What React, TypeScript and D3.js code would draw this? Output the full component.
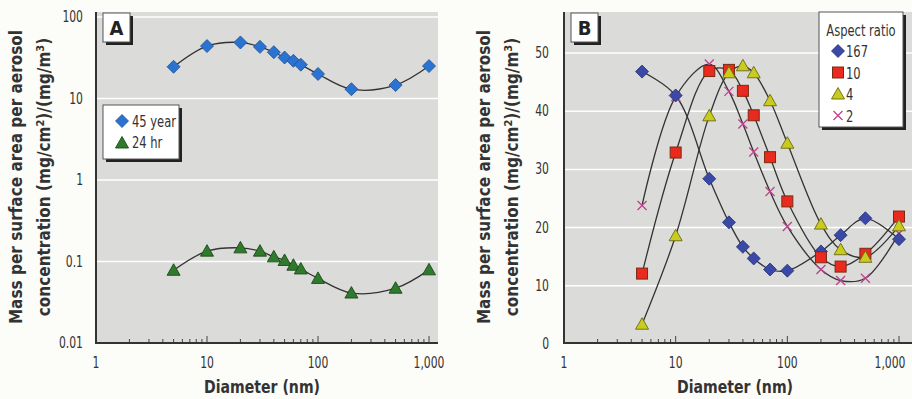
import { useRef, useEffect } from "react";
import * as d3 from "d3";

// panel A (log-log)
const diamA = [5, 10, 20, 30, 40, 50, 60, 70, 100, 200, 500, 1000];
const year45 = [24.5, 44, 48.7, 43, 37, 31.8, 29, 26, 20, 13, 14.6, 25];
const hr24 = [0.078, 0.134, 0.147, 0.134, 0.114, 0.103, 0.09, 0.081, 0.062, 0.041, 0.047, 0.079];
const yTicksA = [0.01, 0.1, 1, 10, 100];

// panel B (log-linear)
const diamB = [5, 10, 20, 30, 40, 50, 70, 100, 200, 300, 500, 1000];
const ar167 = [46.8, 42.7, 28.4, 20.9, 16.7, 14.7, 12.8, 12.6, 15.9, 18.7, 21.6, 18.0];
const ar10 = [12.1, 32.9, 46.9, 47.1, 43.5, 39.3, 32.1, 24.5, 14.9, 13.3, 15.5, 21.9];
const ar4 = [3.4, 18.6, 39.2, 46.6, 47.8, 46.6, 41.8, 34.5, 20.6, 16.2, 14.9, 20.3];
const ar2 = [23.8, 42.5, 48.1, 43.4, 37.8, 33.0, 26.2, 20.2, 12.8, 10.9, 11.3, 19.0];
const yTicksB = [0, 10, 20, 30, 40, 50];

const xTicks = [1, 10, 100, 1000];
const FONT = "'DejaVu Sans Condensed', 'Liberation Sans Narrow', sans-serif";

type Marker = "diamond" | "triangle" | "square" | "cross";

function drawMarker(g: any, type: Marker, x: number, y: number, fill: string, stroke: string) {
  if (type === "diamond") {
    g.append("path")
      .attr("d", `M${x},${y - 6.5}L${x + 6.5},${y}L${x},${y + 6.5}L${x - 6.5},${y}Z`)
      .attr("fill", fill).attr("stroke", stroke).attr("stroke-width", 0.8);
  } else if (type === "triangle") {
    g.append("path")
      .attr("d", `M${x},${y - 6.5}L${x + 6.5},${y + 5}L${x - 6.5},${y + 5}Z`)
      .attr("fill", fill).attr("stroke", stroke).attr("stroke-width", 0.9);
  } else if (type === "square") {
    g.append("rect")
      .attr("x", x - 5.5).attr("y", y - 5.5).attr("width", 11).attr("height", 11)
      .attr("fill", fill).attr("stroke", stroke).attr("stroke-width", 1);
  } else {
    g.append("path")
      .attr("d", `M${x - 4.5},${y - 4.5}L${x + 4.5},${y + 4.5}M${x + 4.5},${y - 4.5}L${x - 4.5},${y + 4.5}`)
      .attr("stroke", fill).attr("stroke-width", 1.3).attr("fill", "none");
  }
}

function App() {
  const svgRef = useRef<SVGSVGElement>(null);

  useEffect(() => {
    const svg = d3.select(svgRef.current);
    svg.selectAll("*").remove();
    svg.append("rect").attr("width", 912).attr("height", 399).attr("fill", "#fcfcf8");

    const line = (x: any, y: any) =>
      d3.line<[number, number]>()
        .x((d) => x(d[0]))
        .y((d) => y(d[1]))
        .curve(d3.curveCatmullRom.alpha(0.5));

    const drawXAxis = (x: any, left: number, right: number, bottom: number, center: number) => {
      const g = svg.append("g");
      const minor: number[] = [];
      for (let dec = 1; dec < 1000; dec *= 10) {
        for (let k = 2; k <= 9; k++) minor.push(dec * k);
      }
      g.selectAll(".minor").data(minor).join("line")
        .attr("x1", (d) => x(d)).attr("x2", (d) => x(d))
        .attr("y1", bottom).attr("y2", bottom - 4)
        .attr("stroke", "#444").attr("stroke-width", 1);
      g.selectAll(".major").data([10, 100, 1000]).join("line")
        .attr("x1", (d) => x(d)).attr("x2", (d) => x(d))
        .attr("y1", bottom).attr("y2", bottom - 7)
        .attr("stroke", "#444").attr("stroke-width", 1);
      g.append("line").attr("x1", left - 1).attr("x2", right).attr("y1", bottom).attr("y2", bottom)
        .attr("stroke", "#333").attr("stroke-width", 2);
      g.append("line").attr("x1", left).attr("x2", left).attr("y1", 12).attr("y2", bottom)
        .attr("stroke", "#333").attr("stroke-width", 2);
      g.selectAll(".xl").data(xTicks).join("text")
        .attr("class", "cond")
        .attr("x", (d) => x(d) + (d === 1000 && right > 900 ? -9 : 0)).attr("y", 368)
        .attr("text-anchor", "middle")
        .attr("font-family", FONT).attr("font-size", 15).attr("fill", "#333")
        .text((d) => d3.format(",")(d));
      g.append("text").attr("x", center).attr("y", 393)
        .attr("text-anchor", "middle").attr("font-family", FONT)
        .attr("font-size", 18).attr("font-weight", "bold").attr("fill", "#333")
        .attr("textLength", 116).attr("lengthAdjust", "spacingAndGlyphs")
        .text("Diameter (nm)");
    };

    const drawYTitle = (cx: number) => {
      const g = svg.append("g").attr("transform", `translate(${cx},177) rotate(-90)`);
      const t1 = g.append("text").attr("x", 0).attr("y", 0)
        .attr("text-anchor", "middle").attr("font-family", FONT)
        .attr("font-size", 17).attr("font-weight", "bold").attr("fill", "#333");
      t1.text("Mass per surface area per aerosol");
      const t2 = g.append("text").attr("x", 0).attr("y", 28)
        .attr("text-anchor", "middle").attr("font-family", FONT)
        .attr("font-size", 17).attr("font-weight", "bold").attr("fill", "#333");
      t2.append("tspan").text("concentration (mg/cm");
      t2.append("tspan").attr("font-size", 11).attr("dy", -6).text("2");
      t2.append("tspan").attr("dy", 6).text(")/(mg/m");
      t2.append("tspan").attr("font-size", 11).attr("dy", -6).text("3");
      t2.append("tspan").attr("dy", 6).text(")");
    };

    const labelBox = (x0: number, label: string) => {
      svg.append("rect").attr("x", x0 + 3).attr("y", 16).attr("width", 27).attr("height", 29).attr("fill", "#222");
      svg.append("rect").attr("x", x0).attr("y", 13).attr("width", 27).attr("height", 29)
        .attr("fill", "#fff").attr("stroke", "#555").attr("stroke-width", 1);
      svg.append("text").attr("x", x0 + 13.5).attr("y", 35).attr("text-anchor", "middle")
        .attr("font-family", FONT).attr("font-size", 20).attr("font-weight", "bold").attr("fill", "#222")
        .text(label);
    };

    // ---------- Panel A ----------
    const xA = d3.scaleLog().domain([1, 1000]).range([96, 429]);
    const yA = d3.scaleLog().domain([0.01, 100]).range([343, 17]);
    svg.append("rect").attr("x", 96).attr("y", 12).attr("width", 342).attr("height", 331).attr("fill", "#dbdbd9");
    svg.selectAll(".gridA").data(yTicksA.slice(1)).join("line")
      .attr("x1", 96).attr("x2", 438).attr("y1", (d) => yA(d)).attr("y2", (d) => yA(d))
      .attr("stroke", "#fff").attr("stroke-width", 1.5);
    svg.selectAll(".ylA").data(yTicksA).join("text")
      .attr("class", "cond")
      .attr("x", 83).attr("y", (d) => yA(d) + 5).attr("text-anchor", "end")
      .attr("font-family", FONT).attr("font-size", 15).attr("fill", "#333")
      .text((d) => String(d));
    drawXAxis(xA, 96, 438, 343, 262);
    drawYTitle(22);

    const gA = svg.append("g");
    const lA = line(xA, yA);
    gA.append("path").datum(diamA.map((d, i) => [d, year45[i]] as [number, number]))
      .attr("d", lA).attr("fill", "none").attr("stroke", "#333").attr("stroke-width", 1.3);
    gA.append("path").datum(diamA.map((d, i) => [d, hr24[i]] as [number, number]))
      .attr("d", lA).attr("fill", "none").attr("stroke", "#333").attr("stroke-width", 1.3);
    diamA.forEach((d, i) => drawMarker(gA, "diamond", xA(d), yA(year45[i]), "#2b73d1", "#1d4f96"));
    diamA.forEach((d, i) => drawMarker(gA, "triangle", xA(d), yA(hr24[i]), "#2f7a2c", "#1d4a1a"));

    labelBox(103, "A");

    // legend A
    svg.append("rect").attr("x", 106).attr("y", 108).attr("width", 76).attr("height", 54).attr("fill", "#222");
    svg.append("rect").attr("x", 103).attr("y", 105).attr("width", 76).attr("height", 54)
      .attr("fill", "#fff").attr("stroke", "#555").attr("stroke-width", 1);
    drawMarker(svg, "diamond", 122, 121, "#2b73d1", "#1d4f96");
    drawMarker(svg, "triangle", 122, 143, "#2f7a2c", "#1d4a1a");
    svg.append("text").attr("class", "cond").attr("x", 132).attr("y", 127).attr("font-family", FONT).attr("font-size", 16)
      .attr("fill", "#333").text("45 year");
    svg.append("text").attr("class", "cond").attr("x", 132).attr("y", 148).attr("font-family", FONT).attr("font-size", 16)
      .attr("fill", "#333").text("24 hr");

    // ---------- Panel B ----------
    const xB = d3.scaleLog().domain([1, 1000]).range([564, 899]);
    const yB = d3.scaleLinear().domain([0, 50]).range([344, 53]);
    svg.append("rect").attr("x", 564).attr("y", 12).attr("width", 348).attr("height", 331).attr("fill", "#dbdbd9");
    svg.selectAll(".gridB").data(yTicksB.slice(1)).join("line")
      .attr("x1", 564).attr("x2", 912).attr("y1", (d) => yB(d)).attr("y2", (d) => yB(d))
      .attr("stroke", "#fff").attr("stroke-width", 1.5);
    svg.selectAll(".ylB").data(yTicksB).join("text")
      .attr("class", "cond")
      .attr("x", 549).attr("y", (d) => yB(d) + 5).attr("text-anchor", "end")
      .attr("font-family", FONT).attr("font-size", 15).attr("fill", "#333")
      .text((d) => String(d));
    drawXAxis(xB, 564, 912, 343, 735);
    drawYTitle(490);

    const gB = svg.append("g");
    const lB = line(xB, yB);
    const seriesB: { vals: number[]; type: Marker; fill: string; stroke: string }[] = [
      { vals: ar2, type: "cross", fill: "#c0428e", stroke: "#c0428e" },
      { vals: ar167, type: "diamond", fill: "#3a48a8", stroke: "#23306e" },
      { vals: ar10, type: "square", fill: "#ea2a1e", stroke: "#7a2a12" },
      { vals: ar4, type: "triangle", fill: "#c9cc1e", stroke: "#6a6a12" },
    ];
    seriesB.forEach((s) => {
      gB.append("path").datum(diamB.map((d, i) => [d, s.vals[i]] as [number, number]))
        .attr("d", lB).attr("fill", "none").attr("stroke", "#333").attr("stroke-width", 1.3);
    });
    seriesB.forEach((s) => {
      diamB.forEach((d, i) => drawMarker(gB, s.type, xB(d), yB(s.vals[i]), s.fill, s.stroke));
    });

    labelBox(571, "B");

    // legend B
    svg.append("rect").attr("x", 822).attr("y", 15).attr("width", 84).attr("height", 115).attr("fill", "#222");
    svg.append("rect").attr("x", 819).attr("y", 12).attr("width", 84).attr("height", 115)
      .attr("fill", "#fff").attr("stroke", "#555").attr("stroke-width", 1);
    svg.append("text").attr("class", "cond").attr("x", 861).attr("y", 36).attr("text-anchor", "middle")
      .attr("font-family", FONT).attr("font-size", 16).attr("fill", "#333").text("Aspect ratio");
    const legB = [
      { label: "167", s: seriesB[1] },
      { label: "10", s: seriesB[2] },
      { label: "4", s: seriesB[3] },
      { label: "2", s: seriesB[0] },
    ];
    legB.forEach((e, i) => {
      const y = 51 + i * 21.5;
      drawMarker(svg, e.s.type, 838, y, e.s.fill, e.s.stroke);
      svg.append("text").attr("class", "cond").attr("x", 846).attr("y", y + 6).attr("font-family", FONT).attr("font-size", 16)
        .attr("fill", "#333").text(e.label);
    });

    // condense the plain labels to look like a narrow face
    svg.selectAll<SVGTextElement, unknown>("text.cond").each(function () {
      const w = this.getComputedTextLength();
      this.setAttribute("textLength", String(w * 0.8));
      this.setAttribute("lengthAdjust", "spacingAndGlyphs");
    });
  }, []);

  return (
    <div>
      <svg ref={svgRef} width={912} height={399} style={{ position: "absolute", left: 0, top: 0 }} />
    </div>
  );
}

export default App;
